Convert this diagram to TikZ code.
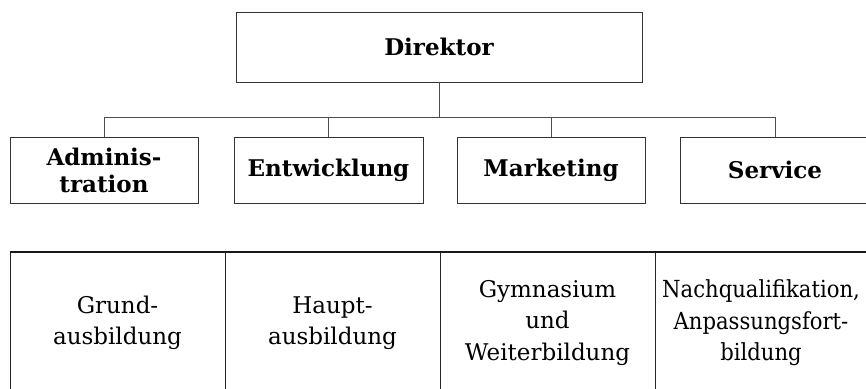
\documentclass[tikz,border=0pt]{standalone}
\usepackage{fontspec}
\setmainfont{DejaVu Serif}
\newfontfamily\mycondfont{DejaVu Serif Condensed}
\begin{document}
\begin{tikzpicture}[x=1pt,y=-1pt,
  box/.style={draw=black!80, line width=0.9pt, inner sep=0pt, align=center,
    font=\bfseries\fontsize{23}{27}\selectfont},
  cell/.style={draw=black!85, line width=0.8pt, inner sep=0pt, minimum width=215pt, minimum height=146pt, anchor=north},
  celltext/.style={align=center, inner sep=0pt, font=\fontsize{23}{31.5}\selectfont},
  conn/.style={draw=black!70, line width=0.7pt}]
\useasboundingbox (0,0) rectangle (866,388);
\node[box, minimum width=406pt, minimum height=70pt] (dir) at (439,47) {Direktor};
\node[box, minimum width=188pt, minimum height=66pt] (adm) at (104,170) {Adminis-\\tration};
\node[box, minimum width=189pt, minimum height=66pt] (ent) at (328.5,170) {Entwicklung};
\node[box, minimum width=188pt, minimum height=66pt] (mar) at (551,170) {Marketing};
\node[box, minimum width=190pt, minimum height=66pt] (ser) at (775,170) {Service};
\coordinate (j) at (439,117);
\draw[conn] (dir.south) -- (j);
\draw[conn] (j) -| (adm.north);
\draw[conn] (j) -| (ent.north);
\draw[conn] (j) -| (mar.north);
\draw[conn] (j) -| (ser.north);
\node[cell] (c1) at (117.5,252) {};
\node[cell] (c2) at (332.5,252) {};
\node[cell] (c3) at (547.5,252) {};
\node[cell] (c4) at (762.5,252) {};
\draw[black!90, line width=1.4pt] (c1.north west) -- (c4.north east);
\node[celltext, font=\mycondfont\fontsize{23.5}{31.5}\selectfont] (t4) at (761,323) {Nachqualifikation,\\Anpassungsfort-\\bildung};
\node[celltext] (t1) at (117.5,323) {Grund-\\ausbildung};
\node[celltext] (t2) at (332.5,323) {Haupt-\\ausbildung};
\node[celltext] (t3) at (547.5,323) {Gymnasium\\und\\Weiterbildung};
\end{tikzpicture}
\end{document}
